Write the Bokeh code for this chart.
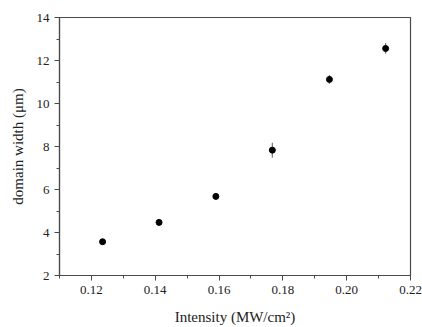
from bokeh.plotting import figure
from bokeh.models import FixedTicker, NumeralTickFormatter, Range1d
from bokeh.embed import file_html
from bokeh.resources import INLINE

intensity = [0.1235, 0.1412, 0.1590, 0.1767, 0.1946, 0.2122]
width = [3.57, 4.47, 5.68, 7.83, 11.12, 12.56]
err = [0.1, 0.1, 0.15, 0.35, 0.2, 0.25]
x_ticks = [0.12, 0.14, 0.16, 0.18, 0.20, 0.22]
x_minor = [0.11, 0.13, 0.15, 0.17, 0.19, 0.21]
y_ticks = [2, 4, 6, 8, 10, 12, 14]
y_minor = [3, 5, 7, 9, 11, 13]

FONT = "Liberation Serif"
AX = "#4a4a4a"

p = figure(width=422, height=327, output_backend="svg", toolbar_location=None,
           x_range=Range1d(0.11, 0.22), y_range=Range1d(2, 14),
           min_border_left=59, min_border_right=12, min_border_top=17, min_border_bottom=51)
p.grid.visible = False
p.outline_line_color = AX
p.outline_line_width = 1.2

lo = [w - e for w, e in zip(width, err)]
hi = [w + e for w, e in zip(width, err)]
p.segment(x0=intensity, x1=intensity, y0=lo, y1=hi, line_color="#777777", line_width=1.2)
p.scatter(intensity, width, size=6, color="black")

p.xaxis.ticker = FixedTicker(ticks=x_ticks, minor_ticks=x_minor)
p.yaxis.ticker = FixedTicker(ticks=y_ticks, minor_ticks=y_minor)
p.xaxis.formatter = NumeralTickFormatter(format="0.00")

for ax in (p.xaxis, p.yaxis):
    ax.axis_line_color = AX
    ax.axis_line_width = 1.2
    ax.major_tick_line_color = AX
    ax.minor_tick_line_color = AX
    ax.major_tick_out = 5
    ax.major_tick_in = 0
    ax.minor_tick_out = 3
    ax.minor_tick_in = 0
    ax.major_label_text_font = FONT
    ax.major_label_text_font_size = "13px"
    ax.major_label_text_color = "#222222"
    ax.axis_label_text_font = FONT
    ax.axis_label_text_font_size = "15px"
    ax.axis_label_text_font_style = "normal"
    ax.axis_label_text_color = "#222222"

p.xaxis.axis_label = "Intensity (MW/cm²)"
p.yaxis.axis_label = "domain width (μm)"
p.xaxis.axis_label_standoff = 12
p.yaxis.axis_label_standoff = 8

open("out.html", "w").write(file_html(p, INLINE))
